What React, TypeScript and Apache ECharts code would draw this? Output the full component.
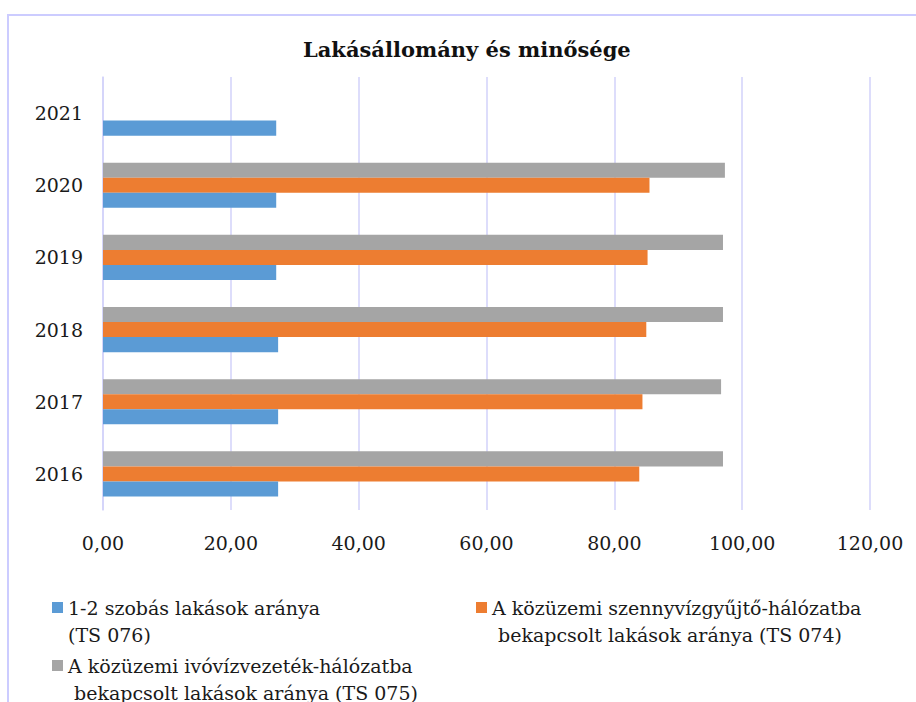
import React, { useEffect, useRef } from "react";
import * as echarts from "echarts";

const years = ["2016", "2017", "2018", "2019", "2020", "2021"];
const seriesNames = [
  "1-2 szobás lakások aránya (TS 076)",
  "A közüzemi szennyvízgyűjtő-hálózatba bekapcsolt lakások aránya (TS 074)",
  "A közüzemi ivóvízvezeték-hálózatba bekapcsolt lakások aránya (TS 075)",
];
const legendLabels = [
  "1-2 szobás lakások aránya\n(TS 076)",
  "A közüzemi szennyvízgyűjtő-hálózatba\n bekapcsolt lakások aránya (TS 074)",
  "A közüzemi ivóvízvezeték-hálózatba\n bekapcsolt lakások aránya (TS 075)",
];
const szobas = [27.4, 27.4, 27.4, 27.1, 27.1, 27.1];
const szennyviz = [83.9, 84.4, 85.0, 85.2, 85.5, null];
const ivoviz = [97.0, 96.7, 97.0, 97.0, 97.3, null];
const colors = ["#5B9BD5", "#ED7D31", "#A5A5A5"];
const xTicks = { min: 0, max: 120, interval: 20 };

const FONT = "DejaVu Serif";
const GRIDC = "#d2d2fa";
const ICON = "path://M0,0H11V11H0Z M0,38H0.01V38.01H0Z";

export default function App() {
  const ref = useRef<HTMLDivElement>(null);
  useEffect(() => {
    if (!ref.current) return;
    const chart = echarts.init(ref.current, undefined, { renderer: "svg" });
    const legendBase = {
      icon: ICON,
      itemWidth: 11,
      itemHeight: 38,
      padding: 0,
      selectedMode: false,
      textStyle: { fontFamily: FONT, fontSize: 19, color: "#1a1a1a", lineHeight: 27 },
      formatter: (n: string) => legendLabels[seriesNames.indexOf(n)],
    };
    const barCommon = { type: "bar", barGap: "0%", barCategoryGap: "37.5%" };
    chart.setOption({
      animation: false,
      backgroundColor: "#ffffff",
      title: {
        text: "Lakásállomány és minősége",
        left: 303,
        top: 39,
        padding: 0,
        textStyle: { fontFamily: FONT, fontSize: 21, fontWeight: "bold", color: "#111" },
      },
      graphic: [
        {
          type: "rect",
          shape: { x: 8, y: 15, width: 1000, height: 1000 },
          style: { fill: "none", stroke: "#ccccff", lineWidth: 2 },
          silent: true,
        },
      ],
      legend: [
        { ...legendBase, data: [seriesNames[0]], left: 52, top: 594 },
        { ...legendBase, data: [seriesNames[1]], left: 476, top: 594 },
        { ...legendBase, data: [seriesNames[2]], left: 52, top: 652 },
      ],
      grid: { left: 103, right: 46, top: 77, bottom: 192 },
      xAxis: {
        type: "value",
        min: xTicks.min,
        max: xTicks.max,
        interval: xTicks.interval,
        axisLine: { show: false },
        axisTick: { show: false },
        axisLabel: {
          margin: 23,
          fontFamily: FONT,
          fontSize: 19,
          color: "#1a1a1a",
          formatter: (v: number) => v.toFixed(2).replace(".", ","),
        },
        splitLine: { lineStyle: { color: GRIDC, width: 1.5 } },
      },
      yAxis: {
        type: "category",
        data: years,
        axisLine: { lineStyle: { color: GRIDC, width: 1.5 } },
        axisTick: { show: false },
        axisLabel: { margin: 20, fontFamily: FONT, fontSize: 19, color: "#1a1a1a" },
      },
      series: [
        { ...barCommon, name: seriesNames[2], data: ivoviz, itemStyle: { color: colors[2] } },
        { ...barCommon, name: seriesNames[1], data: szennyviz, itemStyle: { color: colors[1] } },
        { ...barCommon, name: seriesNames[0], data: szobas, itemStyle: { color: colors[0] } },
      ],
    });
    return () => chart.dispose();
  }, []);
  return (
    <div
      ref={ref}
      style={{ position: "fixed", left: 0, top: 0, width: 916, height: 702 }}
    />
  );
}
